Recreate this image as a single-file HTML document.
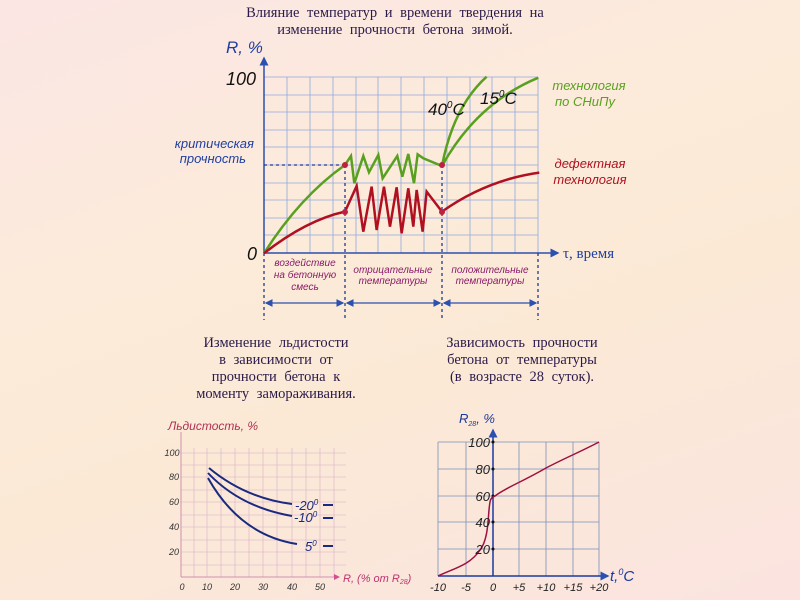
<!DOCTYPE html>
<html><head><meta charset="utf-8"><style>
html,body{margin:0;padding:0}
body{width:800px;height:600px;overflow:hidden;background:linear-gradient(160deg,#fbe6e4 0%,#fcebd9 40%,#fbe9d6 60%,#fbe4e0 100%);font-family:"Liberation Sans",sans-serif}
svg{position:absolute;left:0;top:0}
.s{font-family:"Liberation Serif",serif;fill:#2a1a4a}
</style></head><body>
<svg width="800" height="600" viewBox="0 0 800 600" xmlns="http://www.w3.org/2000/svg">
<defs>
<marker id="a" markerWidth="6" markerHeight="6" refX="5" refY="3" orient="auto"><path d="M0,0 L6,3 L0,6z" fill="#2b50b0"/></marker>
<marker id="b" markerWidth="6" markerHeight="6" refX="1" refY="3" orient="auto"><path d="M6,0 L0,3 L6,6z" fill="#2b50b0"/></marker>
</defs>
<text class="s" x="395" y="17" font-size="14.5" word-spacing="4" text-anchor="middle">Влияние температур и времени твердения на</text>
<text class="s" x="395" y="34" font-size="14.5" word-spacing="4" text-anchor="middle">изменение прочности бетона зимой.</text>

<!-- top chart -->
<g stroke="#8fa8e0" stroke-width="0.8">
<line x1="264" y1="77" x2="538" y2="77"/><line x1="264" y1="95" x2="538" y2="95"/><line x1="264" y1="112" x2="538" y2="112"/><line x1="264" y1="130" x2="538" y2="130"/><line x1="264" y1="147" x2="538" y2="147"/><line x1="264" y1="165" x2="538" y2="165"/><line x1="264" y1="183" x2="538" y2="183"/><line x1="264" y1="200" x2="538" y2="200"/><line x1="264" y1="218" x2="538" y2="218"/><line x1="264" y1="235" x2="538" y2="235"/>
<line x1="287" y1="77" x2="287" y2="253"/><line x1="310" y1="77" x2="310" y2="253"/><line x1="333" y1="77" x2="333" y2="253"/><line x1="356" y1="77" x2="356" y2="253"/><line x1="378" y1="77" x2="378" y2="253"/><line x1="401" y1="77" x2="401" y2="253"/><line x1="424" y1="77" x2="424" y2="253"/><line x1="447" y1="77" x2="447" y2="253"/><line x1="470" y1="77" x2="470" y2="253"/><line x1="492" y1="77" x2="492" y2="253"/><line x1="515" y1="77" x2="515" y2="253"/><line x1="538" y1="77" x2="538" y2="253"/>
</g>
<line x1="264" y1="253" x2="264" y2="58" stroke="#2b50b0" stroke-width="1.5" marker-end="url(#a)"/>
<line x1="264" y1="253" x2="558" y2="253" stroke="#2b50b0" stroke-width="1.5" marker-end="url(#a)"/>
<g stroke="#1d3a9a" stroke-width="1.3" stroke-dasharray="3,3">
<line x1="264" y1="165" x2="345" y2="165"/><line x1="264" y1="253" x2="264" y2="320"/><line x1="345" y1="165" x2="345" y2="320"/><line x1="442" y1="165" x2="442" y2="320"/><line x1="538" y1="253" x2="538" y2="320"/>
</g>
<g stroke="#2b50b0" stroke-width="1.3">
<line x1="266" y1="303" x2="343" y2="303" marker-start="url(#b)" marker-end="url(#a)"/>
<line x1="347" y1="303" x2="440" y2="303" marker-start="url(#b)" marker-end="url(#a)"/>
<line x1="444" y1="303" x2="536" y2="303" marker-start="url(#b)" marker-end="url(#a)"/>
</g>
<g transform="translate(160,30) scale(0.3333)" fill="none" stroke-linejoin="miter">
<path vector-effect="non-scaling-stroke" stroke="#5aa020" stroke-width="2.5" d="M312,670 Q420,500 555,405 L573,378 L583,460 L610,378 L627,427 L655,375 L668,445 L712,378 L727,440 L745,372 L762,460 L773,373 L790,385 L846,408 Q880,230 980,140 M846,408 Q950,220 1135,143"/>
<path vector-effect="non-scaling-stroke" stroke="#b01020" stroke-width="2.5" d="M312,670 Q440,570 555,545 L590,468 L610,605 L635,470 L650,600 L672,470 L690,590 L710,472 L725,610 L745,475 L760,590 L770,480 L788,605 L800,485 L846,545 Q980,450 1138,428"/>
</g>
<circle cx="345" cy="165" r="3" fill="#c02040"/><circle cx="442" cy="165" r="3" fill="#c02040"/>
<circle cx="345" cy="212" r="3" fill="#c02040"/><circle cx="442" cy="212" r="3" fill="#c02040"/>
<g font-style="italic">
<text x="226" y="53" font-size="17" fill="#2040a0">R, %</text>
<text x="226" y="85" font-size="18" fill="#111">100</text>
<text x="247" y="260" font-size="18" fill="#111">0</text>
<text x="254" y="148" font-size="13" fill="#2040a0" text-anchor="end">критическая</text>
<text x="246" y="163" font-size="13" fill="#2040a0" text-anchor="end">прочность</text>
<text x="589" y="90" font-size="13" fill="#5aa020" text-anchor="middle">технология</text>
<text x="585" y="106" font-size="13" fill="#5aa020" text-anchor="middle">по СНиПу</text>
<text x="590" y="168" font-size="13" fill="#b01020" text-anchor="middle">дефектная</text>
<text x="590" y="184" font-size="13" fill="#b01020" text-anchor="middle">технология</text>
<text x="428" y="115" font-size="17" fill="#111">40<tspan font-size="10" dy="-7">0</tspan><tspan dy="7">C</tspan></text>
<text x="480" y="104" font-size="17" fill="#111">15<tspan font-size="10" dy="-7">0</tspan><tspan dy="7">C</tspan></text>
<g font-size="10" fill="#8a1a6a" text-anchor="middle">
<text x="305" y="266">воздействие</text><text x="305" y="278">на бетонную</text><text x="305" y="290">смесь</text>
<text x="393" y="273">отрицательные</text><text x="393" y="284">температуры</text>
<text x="490" y="273">положительные</text><text x="490" y="284">температуры</text>
</g>
</g>
<text x="563" y="258" font-size="15" fill="#2040a0" font-family="Liberation Serif,serif">τ,  время</text>

<!-- bottom texts -->
<g class="s" font-size="14.5" word-spacing="4" text-anchor="middle">
<text x="276" y="347">Изменение льдистости</text><text x="276" y="364">в зависимости от</text><text x="276" y="381">прочности бетона к</text><text x="276" y="398">моменту замораживания.</text>
<text x="522" y="347">Зависимость прочности</text><text x="522" y="364">бетона от температуры</text><text x="522" y="381">(в возрасте 28 суток).</text>
</g>

<!-- bottom left -->
<g stroke="#d8b0c8" stroke-width="0.6">
<line x1="181" y1="453" x2="346" y2="453"/><line x1="181" y1="465" x2="346" y2="465"/><line x1="181" y1="477" x2="346" y2="477"/><line x1="181" y1="490" x2="346" y2="490"/><line x1="181" y1="502" x2="346" y2="502"/><line x1="181" y1="515" x2="346" y2="515"/><line x1="181" y1="527" x2="346" y2="527"/><line x1="181" y1="540" x2="346" y2="540"/><line x1="181" y1="552" x2="346" y2="552"/><line x1="181" y1="565" x2="346" y2="565"/>
<line x1="194" y1="448" x2="194" y2="577"/><line x1="207" y1="448" x2="207" y2="577"/><line x1="221" y1="448" x2="221" y2="577"/><line x1="235" y1="448" x2="235" y2="577"/><line x1="249" y1="448" x2="249" y2="577"/><line x1="263" y1="448" x2="263" y2="577"/><line x1="277" y1="448" x2="277" y2="577"/><line x1="292" y1="448" x2="292" y2="577"/><line x1="306" y1="448" x2="306" y2="577"/><line x1="320" y1="448" x2="320" y2="577"/><line x1="334" y1="448" x2="334" y2="577"/>
</g>
<line x1="181" y1="577" x2="181" y2="432" stroke="#d090b0" stroke-width="1"/>
<line x1="181" y1="577" x2="337" y2="577" stroke="#d090b0" stroke-width="1"/>
<path d="M334,574 L340,577 L334,580z" fill="#d05090"/>
<g fill="none" stroke="#1a2a80" stroke-width="2">
<path d="M209,468 Q245,498 292,504"/><path d="M208,473 Q240,507 292,516"/><path d="M208,478 Q240,535 297,544"/>
<path d="M323,505 H333 M323,518 H333 M323,546 H333"/>
</g>
<g font-style="italic" font-size="9" fill="#333" text-anchor="middle">
<text x="172" y="456">100</text><text x="174" y="480">80</text><text x="174" y="505">60</text><text x="174" y="530">40</text><text x="174" y="555">20</text>
<text x="182" y="590">0</text><text x="207" y="590">10</text><text x="235" y="590">20</text><text x="263" y="590">30</text><text x="292" y="590">40</text><text x="320" y="590">50</text>
</g>
<g font-style="italic" fill="#1a2a80" font-size="13">
<text x="295" y="510">-20<tspan font-size="8" dy="-5">0</tspan></text>
<text x="294" y="522">-10<tspan font-size="8" dy="-5">0</tspan></text>
<text x="305" y="551">5<tspan font-size="8" dy="-5">0</tspan></text>
</g>
<text x="168" y="430" font-size="12" font-style="italic" fill="#b03050">Льдистость, %</text>
<text x="343" y="582" font-size="11" font-style="italic" fill="#c03070">R, (% от R<tspan font-size="7" dy="2">28</tspan><tspan dy="-2">)</tspan></text>

<!-- bottom right -->
<g stroke="#7a90b8" stroke-width="0.8">
<line x1="438" y1="442" x2="599" y2="442"/><line x1="438" y1="469" x2="599" y2="469"/><line x1="438" y1="496" x2="599" y2="496"/><line x1="438" y1="522" x2="599" y2="522"/><line x1="438" y1="549" x2="599" y2="549"/>
<line x1="438" y1="442" x2="438" y2="576"/><line x1="466" y1="442" x2="466" y2="576"/><line x1="519" y1="442" x2="519" y2="576"/><line x1="546" y1="442" x2="546" y2="576"/><line x1="573" y1="442" x2="573" y2="576"/><line x1="599" y1="442" x2="599" y2="576"/>
</g>
<line x1="493" y1="576" x2="493" y2="430" stroke="#1a3aa0" stroke-width="1.5" marker-end="url(#a)"/>
<line x1="438" y1="576" x2="608" y2="576" stroke="#1a3aa0" stroke-width="1.5" marker-end="url(#a)"/>
<g fill="#111"><circle cx="493" cy="442" r="1.5"/><circle cx="493" cy="469" r="1.5"/><circle cx="493" cy="496" r="1.5"/><circle cx="493" cy="522" r="1.5"/><circle cx="493" cy="549" r="1.5"/></g>
<path d="M438,576 C455,568 470,565 480,550 C488,540 488,520 489,510 C490,500 490,498 495,496 C505,488 520,483 546,468 C565,458 580,452 599,442" fill="none" stroke="#a01040" stroke-width="1.5"/>
<g font-style="italic" font-size="13" fill="#222" text-anchor="end">
<text x="490" y="447">100</text><text x="490" y="474">80</text><text x="490" y="501">60</text><text x="490" y="527">40</text><text x="490" y="554">20</text>
</g>
<g font-style="italic" font-size="11" fill="#222" text-anchor="middle">
<text x="438" y="591">-10</text><text x="466" y="591">-5</text><text x="493" y="591">0</text><text x="519" y="591">+5</text><text x="546" y="591">+10</text><text x="573" y="591">+15</text><text x="599" y="591">+20</text>
</g>
<text x="459" y="423" font-size="13" font-style="italic" fill="#1a3aa0">R<tspan font-size="7" dy="3">28</tspan><tspan dy="-3">, %</tspan></text>
<text x="610" y="581" font-size="15" font-style="italic" fill="#1a3aa0">t,<tspan font-size="9" dy="-6">0</tspan><tspan dy="6">C</tspan></text>
</svg>
</body></html>
